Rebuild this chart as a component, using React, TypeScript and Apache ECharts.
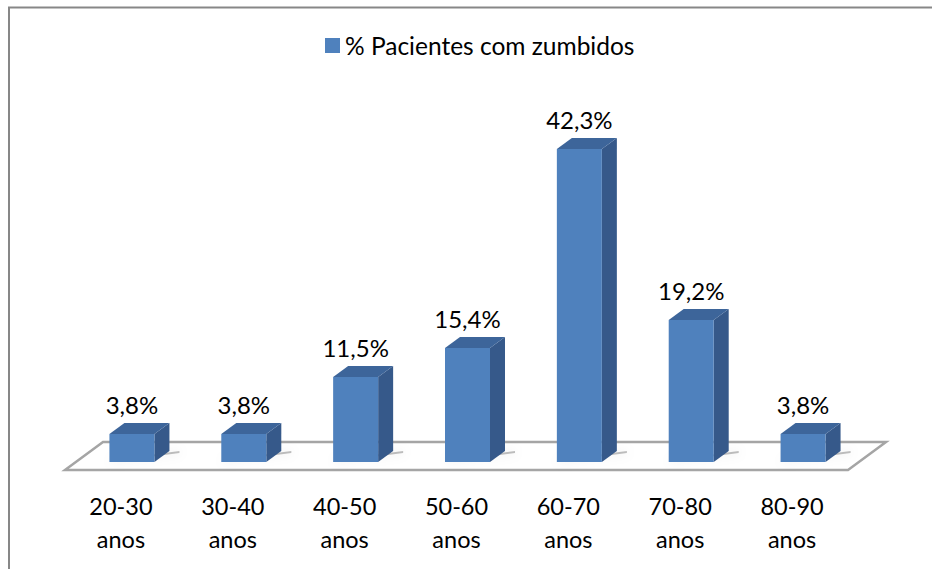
import React, { useEffect, useRef } from "react";
import * as echarts from "echarts";

const categories = ["20-30\nanos", "30-40\nanos", "40-50\nanos", "50-60\nanos", "60-70\nanos", "70-80\nanos", "80-90\nanos"];
const values = [3.8, 3.8, 11.5, 15.4, 42.3, 19.2, 3.8];
const valueLabels = ["3,8%", "3,8%", "11,5%", "15,4%", "42,3%", "19,2%", "3,8%"];
const seriesName = "% Pacientes com zumbidos";

const FONT = "Lato";
const FRONT = "#4f81bd";
const SIDE = "#36598a";
const TOP = "#3d659a";

export default function App() {
  const ref = useRef<HTMLDivElement>(null);
  useEffect(() => {
    if (!ref.current) return;
    const chart = echarts.init(ref.current, undefined, { renderer: "svg" });
    const BAR_W = 45;
    const SHIFT = 11;
    const DX = 15;
    const DY = -11;
    chart.setOption({
      animation: false,
      backgroundColor: "#ffffff",
      textStyle: { fontFamily: FONT },
      graphic: [
        { type: "line", shape: { x1: 8, y1: 7.5, x2: 932, y2: 7.5 }, style: { stroke: "#878787", lineWidth: 2 } },
        { type: "line", shape: { x1: 9, y1: 7, x2: 9, y2: 569 }, style: { stroke: "#878787", lineWidth: 2 } },
      ],
      legend: {
        data: [seriesName],
        left: 325,
        top: 33,
        padding: 0,
        icon: "rect",
        itemWidth: 15,
        itemHeight: 15,
        textStyle: { fontFamily: FONT, fontSize: 24.5, color: "#000" },
      },
      grid: { left: 65, right: 84, top: 92, bottom: 107 },
      xAxis: {
        type: "category",
        data: categories,
        axisLine: { show: false },
        axisTick: { show: false },
        splitLine: { show: false },
        axisLabel: {
          margin: 27,
          fontFamily: FONT,
          fontSize: 23.5,
          lineHeight: 33,
          color: "#000",
        },
      },
      yAxis: {
        type: "value",
        min: 0,
        max: 50,
        show: false,
        splitLine: { show: false },
      },
      series: [
        {
          type: "custom",
          name: "floor",
          silent: true,
          z: 1,
          data: [[0, 0]],
          encode: { x: 0, y: 1 },
          renderItem: (params: any, api: any) => {
            const band = api.size([1, 0])[0];
            const first = api.coord([0, 0]);
            const last = api.coord([categories.length - 1, 0]);
            const xl = first[0] - band / 2;
            const xr = last[0] + band / 2;
            const yf = first[1] + 8;
            const yb = first[1] - 20;
            const d = 38;
            return {
              type: "polygon",
              shape: { points: [[xl, yf], [xr, yf], [xr + d, yb], [xl + d, yb]] },
              style: { fill: "#ffffff", stroke: "#a5a5a5", lineWidth: 2.5 },
            };
          },
        },
        {
          type: "custom",
          name: seriesName,
          z: 2,
          itemStyle: { color: FRONT },
          data: values.map((v, i) => [i, v]),
          encode: { x: 0, y: 1 },
          renderItem: (params: any, api: any) => {
            const idx = params.dataIndex;
            const v = api.value(1);
            const top = api.coord([api.value(0), v]);
            const base = api.coord([api.value(0), 0]);
            const cx = base[0] + SHIFT;
            const xl = cx - BAR_W / 2;
            const xr = cx + BAR_W / 2;
            const yt = top[1];
            const yb = base[1];
            return {
              type: "group",
              children: [
                {
                  type: "polygon",
                  shape: { points: [[xl + 2, yb], [xr + DX + 10, yb + DY + 2], [xr + DX + 10, yb + DY], [xl + 2, yb - 2]] },
                  style: { fill: "rgba(0,0,0,0.25)", shadowBlur: 10, shadowColor: "rgba(0,0,0,0.5)", shadowOffsetX: 0, shadowOffsetY: 0 },
                },
                {
                  type: "polygon",
                  shape: { points: [[xr, yt], [xr + DX, yt + DY], [xr + DX, yb + DY], [xr, yb]] },
                  style: { fill: SIDE },
                },
                {
                  type: "polygon",
                  shape: { points: [[xl, yt], [xl + DX, yt + DY], [xr + DX, yt + DY], [xr, yt]] },
                  style: { fill: TOP },
                },
                {
                  type: "rect",
                  shape: { x: xl, y: yt, width: BAR_W, height: yb - yt },
                  style: { fill: FRONT },
                },
                {
                  type: "text",
                  x: cx,
                  y: yt - 17.5,
                  style: {
                    text: valueLabels[idx],
                    fontFamily: FONT,
                    fontSize: 24,
                    fill: "#000",
                    align: "center",
                    verticalAlign: "bottom",
                  },
                },
              ],
            };
          },
        },
      ],
    });
    return () => chart.dispose();
  }, []);
  return (
    <div
      ref={ref}
      style={{ position: "fixed", left: 0, top: 0, width: 932, height: 569 }}
    />
  );
}
